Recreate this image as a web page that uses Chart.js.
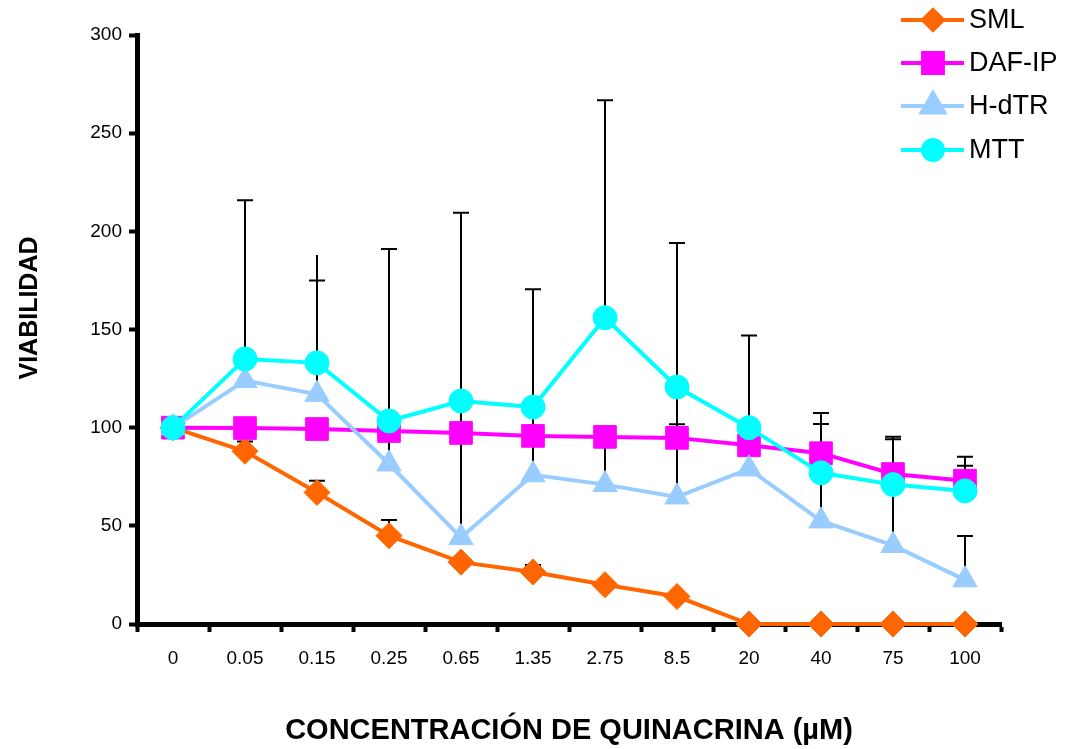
<!DOCTYPE html>
<html>
<head>
<meta charset="utf-8">
<script src="https://cdn.jsdelivr.net/npm/chart.js@4.4.0/dist/chart.umd.min.js"></script>
<style>
  html, body { margin: 0; padding: 0; background: #fff; }
  #wrap { width: 1069px; height: 749px; }
</style>
</head>
<body>
<div id="wrap"><canvas id="grafico"></canvas></div>
<script>
// concentraciones de quinacrina (µM)
const concentraciones = ['0', '0.05', '0.15', '0.25', '0.65', '1.35', '2.75', '8.5', '20', '40', '75', '100'];

const sml   = [100, 88, 67, 45, 31.5, 26.5, 20, 14, 0, 0, 0, 0];
const dafip = [100, 99.8, 99.3, 98.3, 97.3, 95.8, 95.3, 94.8, 91, 87, 76.4, 73];
const hdtr  = [100, 124, 117, 81.5, 44, 76, 71, 64.7, 79, 52.5, 40, 22.5];
const mtt   = [100, 135, 133, 103.4, 113.6, 110.5, 156, 120.7, 100, 77, 71, 67.8];

// extremo superior de las barras de error
const smlErr   = [null, 93, 73, 53, null, 30, null, null, null, null, null, null];
const dafipErr = [null, null, null, null, null, null, null, 101.7, null, 101.9, 94.1, 80.6];
const hdtrErr  = [null, null, 175, 191, 209.5, 170.5, 95, 194, null, 107.5, 95.4, 44.8];
const mttErr   = [null, 215.8, 188, null, null, null, 266.8, null, 147, null, null, 85.2];
const mttSinTapa = [2];

const yTicks = [0, 50, 100, 150, 200, 250, 300];

const FUENTE = "'Liberation Sans', Arial, sans-serif";

const errores = [
    { datos: sml, tope: smlErr, sinTapa: [] },
    { datos: dafip, tope: dafipErr, sinTapa: [] },
    { datos: hdtr, tope: hdtrErr, sinTapa: [] },
    { datos: mtt, tope: mttErr, sinTapa: mttSinTapa }
];

const barrasError = {
    id: 'barrasError',
    beforeDatasetsDraw(chart) {
        const ctx = chart.ctx;
        const xs = chart.scales.x, ys = chart.scales.y;
        ctx.save();
        ctx.strokeStyle = '#000';
        ctx.lineWidth = 2;
        errores.forEach(e => {
            e.tope.forEach((t, i) => {
                if (t === null) return;
                const x = xs.getPixelForValue(i);
                const y0 = ys.getPixelForValue(e.datos[i]);
                const y1 = ys.getPixelForValue(t);
                ctx.beginPath();
                ctx.moveTo(x, y0);
                ctx.lineTo(x, y1);
                if (e.sinTapa.indexOf(i) < 0) {
                    ctx.moveTo(x - 8, y1);
                    ctx.lineTo(x + 8, y1);
                }
                ctx.stroke();
            });
        });
        ctx.restore();
    }
};

const leyenda = {
    id: 'leyenda',
    afterDraw(chart) {
        const ctx = chart.ctx;
        const filas = [20, 63, 106, 150];
        const radios = [10, 14, 13, 10];
        ctx.save();
        chart.data.datasets.forEach((ds, i) => {
            const y = filas[i];
            ctx.strokeStyle = ds.borderColor;
            ctx.lineWidth = 4;
            ctx.beginPath();
            ctx.moveTo(901, y);
            ctx.lineTo(964, y);
            ctx.stroke();
            ctx.fillStyle = ds.backgroundColor;
            Chart.helpers.drawPoint(ctx, { pointStyle: ds.pointStyle, radius: radios[i], rotation: 0, borderWidth: 1 }, 933, y);
            ctx.fillStyle = '#000';
            ctx.font = '27px ' + FUENTE;
            ctx.textAlign = 'left';
            ctx.textBaseline = 'middle';
            ctx.fillText(ds.label, 969, y + 1);
        });
        // titulo del eje y
        ctx.translate(30, 308);
        ctx.rotate(-Math.PI / 2);
        ctx.font = 'bold 25px ' + FUENTE;
        ctx.textAlign = 'center';
        ctx.textBaseline = 'middle';
        ctx.fillText('VIABILIDAD', 0, 0);
        ctx.restore();
    }
};

function serie(label, data, color, estilo, radio, orden) {
    return {
        label: label,
        data: data,
        borderColor: color,
        backgroundColor: color,
        borderWidth: 4,
        pointStyle: estilo,
        pointRadius: radio,
        pointHoverRadius: radio,
        pointBorderWidth: 1,
        pointBackgroundColor: color,
        pointBorderColor: color,
        tension: 0,
        clip: false,
        order: orden
    };
}

new Chart(document.getElementById('grafico'), {
    type: 'line',
    data: {
        labels: concentraciones,
        datasets: [
            serie('SML', sml, '#FF6600', 'rectRot', 13, 3),
            serie('DAF-IP', dafip, '#FF00FF', 'rect', 16, 2),
            serie('H-dTR', hdtr, '#99CCFF', 'triangle', 14, 1),
            serie('MTT', mtt, '#00FFFF', 'circle', 12, 0)
        ]
    },
    options: {
        responsive: true,
        maintainAspectRatio: false,
        animation: false,
        layout: { padding: { top: 35, right: 68, left: 0, bottom: 0 } },
        plugins: {
            legend: { display: false },
            tooltip: { enabled: false }
        },
        scales: {
            x: {
                offset: true,
                grid: { drawOnChartArea: false, offset: true, tickLength: 8, tickWidth: 4, color: '#000' },
                border: { width: 5, color: '#000' },
                ticks: { color: '#000', font: { family: FUENTE, size: 19 }, padding: 15, maxRotation: 0 },
                title: {
                    display: true,
                    text: 'CONCENTRACIÓN DE QUINACRINA (µM)',
                    color: '#000',
                    font: { family: FUENTE, size: 29, weight: 'bold', lineHeight: 1.2 },
                    padding: { top: 0, bottom: 1 }
                },
                afterFit(s) { s.height = 125; }
            },
            y: {
                min: 0,
                max: 300,
                afterBuildTicks(s) { s.ticks = yTicks.map(v => ({ value: v })); },
                grid: { drawOnChartArea: false, tickLength: 8, tickWidth: 4, color: '#000' },
                border: { width: 5, color: '#000' },
                ticks: { color: '#000', font: { family: FUENTE, size: 19 }, padding: 7 },
                afterFit(s) { s.width = 137; }
            }
        }
    },
    plugins: [barrasError, leyenda]
});
</script>
</body>
</html>
